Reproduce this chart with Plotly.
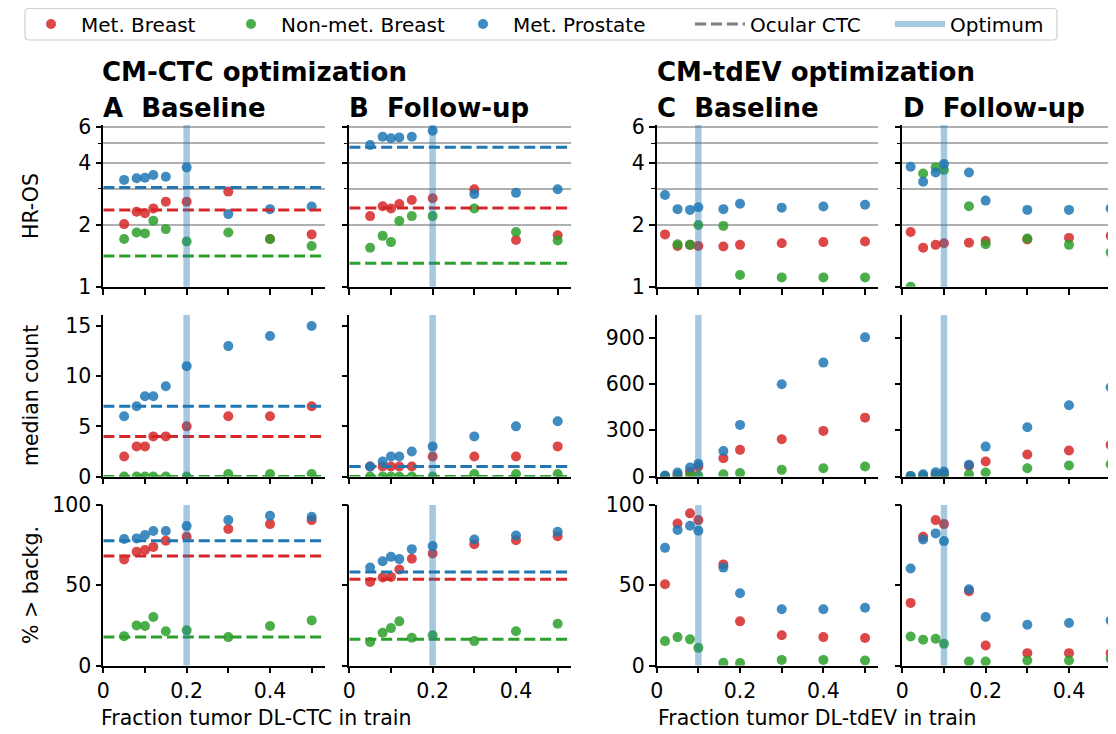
import math
import plotly.graph_objects as go

# ---------------- data ----------------
x_ctc = [0.05, 0.08, 0.1, 0.12, 0.15, 0.2, 0.3, 0.4, 0.5]
x_tdev = [0.02, 0.05, 0.08, 0.1, 0.16, 0.2, 0.3, 0.4, 0.5]
x_ticks = [0, 0.1, 0.2, 0.3, 0.4, 0.5]
x_ticktext = ["0", "", "0.2", "", "0.4", ""]

groups = ["Met. Breast", "Non-met. Breast", "Met. Prostate"]

# HR-OS
hr_A_met_breast = [2.02, 2.32, 2.28, 2.41, 2.60, 2.60, 2.91, 1.71, 1.80]
hr_A_nonmet_breast = [1.71, 1.84, 1.82, 2.10, 1.91, 1.66, 1.84, 1.71, 1.58]
hr_A_met_prostate = [3.32, 3.38, 3.40, 3.51, 3.44, 3.82, 2.26, 2.39, 2.46]
hr_B_met_breast = [2.21, 2.47, 2.41, 2.53, 2.65, 2.70, 2.99, 1.69, 1.78]
hr_B_nonmet_breast = [1.55, 1.77, 1.65, 2.09, 2.21, 2.21, 2.41, 1.85, 1.68]
hr_B_met_prostate = [4.91, 5.39, 5.30, 5.35, 5.39, 5.77, 2.83, 2.87, 2.99]
hr_C_met_breast = [1.80, 1.58, 1.60, 1.58, 1.57, 1.60, 1.63, 1.65, 1.66]
hr_C_nonmet_breast = [None, 1.61, 1.60, 2.00, 1.98, 1.14, 1.11, 1.11, 1.11]
hr_C_met_prostate = [2.80, 2.39, 2.37, 2.44, 2.39, 2.54, 2.43, 2.46, 2.51]
hr_D_met_breast = [1.85, 1.55, 1.60, 1.63, 1.64, 1.67, 1.70, 1.73, 1.77]
hr_D_nonmet_breast = [1.0, 3.57, 3.82, 3.71, 2.47, 1.61, 1.72, 1.60, 1.47]
hr_D_met_prostate = [3.85, 3.25, 3.61, 3.97, 3.61, 2.63, 2.37, 2.37, 2.41]

# median count
cnt_A_met_breast = [2, 3, 3, 4, 4, 5, 6, 6, 7]
cnt_A_nonmet_breast = [0, 0, 0, 0, 0, 0, 0.25, 0.25, 0.25]
cnt_A_met_prostate = [6, 7, 8, 8, 9, 11, 13, 14, 15]
cnt_B_met_breast = [1, 1, 1, 1, 1, 2, 2, 2, 3]
cnt_B_nonmet_breast = [0, 0, 0, 0, 0, 0, 0.25, 0.25, 0.25]
cnt_B_met_prostate = [1, 1.5, 2, 2, 2.5, 3, 4, 5, 5.5]
cnt_C_met_breast = [2, 10, 30, 65, 119, 173, 242, 296, 382]
cnt_C_nonmet_breast = [0, 2, 5, 5, 15, 22, 43, 54, 65]
cnt_C_met_prostate = [6, 26, 58, 82, 166, 335, 599, 739, 903]
cnt_D_met_breast = [1, 5, 12, 18, 70, 97, 143, 169, 205]
cnt_D_nonmet_breast = [0, 1, 2, 3, 15, 26, 54, 71, 80]
cnt_D_met_prostate = [4, 15, 28, 32, 76, 194, 320, 462, 579]

# % > background
pct_A_met_breast = [66.0, 70.8, 71.9, 73.9, 77.7, 80.2, 85.0, 88.1, 90.6]
pct_A_nonmet_breast = [18.3, 25.0, 24.6, 30.2, 21.3, 21.9, 17.7, 24.6, 28.1]
pct_A_met_prostate = [78.8, 79.2, 81.3, 83.8, 83.8, 86.9, 90.6, 93.3, 92.7]
pct_B_met_breast = [52.0, 54.8, 55.2, 59.8, 66.5, 69.8, 75.6, 78.1, 80.6]
pct_B_nonmet_breast = [14.6, 20.4, 23.3, 27.5, 17.3, 18.8, 15.2, 21.3, 26.0]
pct_B_met_prostate = [61.0, 65.0, 67.7, 66.3, 72.5, 74.4, 78.5, 81.0, 83.3]
pct_C_met_breast = [50.6, 88.5, 94.8, 90.6, 63.0, 27.5, 18.8, 17.7, 17.1]
pct_C_nonmet_breast = [15.2, 17.7, 16.3, 11.0, 1.7, 1.5, 3.5, 3.5, 3.1]
pct_C_met_prostate = [73.3, 84.4, 87.1, 84.0, 61.0, 45.0, 35.0, 35.0, 36.0]
pct_D_met_breast = [39.0, 80.2, 90.6, 88.1, 46.3, 12.5, 7.7, 7.7, 7.7]
pct_D_nonmet_breast = [18.1, 16.0, 16.7, 13.5, 2.5, 2.5, 3.1, 3.1, 4.2]
pct_D_met_prostate = [60.4, 78.5, 82.3, 77.5, 47.5, 30.2, 25.4, 26.5, 28.1]

# Ocular CTC reference (met. breast, non-met. breast, met. prostate)
ocular_hr_A = [2.37, 1.41, 3.05]
ocular_hr_B = [2.42, 1.30, 4.79]
ocular_cnt_A = [4, 0, 7]
ocular_cnt_B = [1, 0, 1]
ocular_pct_A = [68.3, 17.7, 77.7]
ocular_pct_B = [53.8, 16.3, 58.3]

optimum_ctc = 0.2
optimum_tdev = 0.1

# ---------------- style / layout ----------------
PAGE_W, PAGE_H = 1116, 734
OFF = 8                      # page body margin of the html page
W, H = PAGE_W - OFF, PAGE_H - OFF
FONT = "DejaVu Sans"
colors = ["#d62728", "#2ca02c", "#1f77b4"]
optimum_color = "rgba(31,119,180,0.4)"
grid_color = "#b0b0b0"
DASH = "11.1px,4.8px"


def fx(px):
    return (px - OFF) / W


def fy(py):
    return 1 - (py - OFF) / H


col_left_px = [103.3, 349.3, 656.7, 902.3]
col_w_px = 221.7
XMAX = 0.532
px_per_unit = col_w_px / XMAX
row_px = [(125, 286.7), (315, 476.5), (505, 665.5)]

panels = {
    (0, 0): (x_ctc, [hr_A_met_breast, hr_A_nonmet_breast, hr_A_met_prostate], ocular_hr_A, optimum_ctc),
    (0, 1): (x_ctc, [hr_B_met_breast, hr_B_nonmet_breast, hr_B_met_prostate], ocular_hr_B, optimum_ctc),
    (0, 2): (x_tdev, [hr_C_met_breast, hr_C_nonmet_breast, hr_C_met_prostate], None, optimum_tdev),
    (0, 3): (x_tdev, [hr_D_met_breast, hr_D_nonmet_breast, hr_D_met_prostate], None, optimum_tdev),
    (1, 0): (x_ctc, [cnt_A_met_breast, cnt_A_nonmet_breast, cnt_A_met_prostate], ocular_cnt_A, optimum_ctc),
    (1, 1): (x_ctc, [cnt_B_met_breast, cnt_B_nonmet_breast, cnt_B_met_prostate], ocular_cnt_B, optimum_ctc),
    (1, 2): (x_tdev, [cnt_C_met_breast, cnt_C_nonmet_breast, cnt_C_met_prostate], None, optimum_tdev),
    (1, 3): (x_tdev, [cnt_D_met_breast, cnt_D_nonmet_breast, cnt_D_met_prostate], None, optimum_tdev),
    (2, 0): (x_ctc, [pct_A_met_breast, pct_A_nonmet_breast, pct_A_met_prostate], ocular_pct_A, optimum_ctc),
    (2, 1): (x_ctc, [pct_B_met_breast, pct_B_nonmet_breast, pct_B_met_prostate], ocular_pct_B, optimum_ctc),
    (2, 2): (x_tdev, [pct_C_met_breast, pct_C_nonmet_breast, pct_C_met_prostate], None, optimum_tdev),
    (2, 3): (x_tdev, [pct_D_met_breast, pct_D_nonmet_breast, pct_D_met_prostate], None, optimum_tdev),
}

legend_names = ["legend", "legend2", "legend3", "legend4", "legend5"]

fig = go.Figure()
layout = {}
shapes = []

for (r, c), (xs, series, ocular, opt) in panels.items():
    idx = r * 4 + c + 1
    xn = "x" if idx == 1 else f"x{idx}"
    yn = "y" if idx == 1 else f"y{idx}"
    xkey = "xaxis" if idx == 1 else f"xaxis{idx}"
    ykey = "yaxis" if idx == 1 else f"yaxis{idx}"

    left = col_left_px[c]
    right = min(left + col_w_px, PAGE_W)
    xmax = (right - left) / px_per_unit
    x_dom = [fx(left), min(fx(right), 1.0)]
    y_dom = [fy(row_px[r][1]), fy(row_px[r][0])]

    for gi, ys in enumerate(series):
        fig.add_trace(go.Scatter(
            x=xs, y=ys, mode="markers", xaxis=xn, yaxis=yn,
            marker=dict(color=colors[gi], size=10, opacity=0.85,
                        line=dict(width=0)),
            name=groups[gi], showlegend=(idx == 1), legend=legend_names[gi],
        ))
    if ocular is not None:
        for gi, v in enumerate(ocular):
            fig.add_trace(go.Scatter(
                x=[0, xmax], y=[v, v], mode="lines", xaxis=xn, yaxis=yn,
                line=dict(color=colors[gi], width=3, dash=DASH),
                showlegend=False, hoverinfo="skip",
            ))

    shapes.append(dict(type="line", xref=xn, yref=f"{yn} domain",
                       x0=opt, x1=opt, y0=0, y1=1,
                       line=dict(color=optimum_color, width=6.5), layer="above"))

    xaxis = dict(domain=x_dom, range=[0, xmax], anchor=yn, automargin=False,
                 showline=True, linecolor="black", linewidth=1.6,
                 ticks="outside", ticklen=6, tickwidth=1.6, tickcolor="black",
                 tickvals=x_ticks, ticktext=x_ticktext,
                 showticklabels=(r == 2), showgrid=False, zeroline=False,
                 tickfont=dict(family=FONT, size=20.5, color="black"))
    yaxis = dict(domain=y_dom, anchor=xn, automargin=False,
                 showline=True, linecolor="black", linewidth=1.6,
                 ticks="outside", ticklen=6, tickwidth=1.6, tickcolor="black",
                 showticklabels=(c in (0, 2)), zeroline=False,
                 tickfont=dict(family=FONT, size=20.5, color="black"))
    if r == 0:
        yaxis.update(type="log", range=[0, math.log10(6.15)],
                     tickvals=[1, 2, 4, 6], ticktext=["1", "2", "4", "6"],
                     showgrid=True, gridcolor=grid_color, gridwidth=1.5,
                     minor=dict(tickvals=[3, 5], ticks="outside", ticklen=3.5,
                                tickwidth=1.2, tickcolor="black",
                                showgrid=True, gridcolor=grid_color, gridwidth=1.5))
    elif r == 1:
        if c < 2:
            yaxis.update(range=[0, 16.1], tickvals=[0, 5, 10, 15], showgrid=False)
        else:
            yaxis.update(range=[0, 1048], tickvals=[0, 300, 600, 900], showgrid=False)
    else:
        yaxis.update(range=[0, 100], tickvals=[0, 50, 100], showgrid=False)
    layout[xkey] = xaxis
    layout[ykey] = yaxis

# legend-only entries
fig.add_trace(go.Scatter(x=[None], y=[None], mode="lines", name="Ocular CTC",
                         line=dict(color="#7f7f7f", width=3, dash=DASH),
                         legend="legend4"))
fig.add_trace(go.Scatter(x=[None], y=[None], mode="lines", name="Optimum",
                         line=dict(color=optimum_color, width=6),
                         legend="legend5"))

# one legend per entry, placed like the reference, inside a common frame
legend_text_px = [83, 283, 515, 752, 952]
for name, tx in zip(legend_names, legend_text_px):
    layout[name] = dict(orientation="h", x=fx(tx - 62), y=fy(24), xanchor="left",
                        yanchor="middle", bgcolor="rgba(0,0,0,0)", borderwidth=0,
                        font=dict(family=FONT, size=20, color="black"),
                        itemwidth=50)

# rounded legend frame
x0, x1, y0, y1 = fx(25), fx(1057), fy(8.5), fy(40)
rx, ry = 4 / W, 4 / H
frame_path = (f"M {x0 + rx},{y0} L {x1 - rx},{y0} Q {x1},{y0} {x1},{y0 - ry} "
              f"L {x1},{y1 + ry} Q {x1},{y1} {x1 - rx},{y1} "
              f"L {x0 + rx},{y1} Q {x0},{y1} {x0},{y1 + ry} "
              f"L {x0},{y0 - ry} Q {x0},{y0} {x0 + rx},{y0} Z")
shapes.append(dict(type="path", xref="paper", yref="paper", path=frame_path,
                   line=dict(color="#d0d0d0", width=1.2), fillcolor="rgba(0,0,0,0)",
                   layer="below"))

annotations = []


def ann(text, x_px, y_px, size=20.5, xanchor="center", angle=0, bold=False):
    annotations.append(dict(
        text=f"<b>{text}</b>" if bold else text,
        x=fx(x_px), y=fy(y_px), xref="paper", yref="paper",
        xanchor=xanchor, yanchor="middle", showarrow=False, textangle=angle,
        font=dict(family=FONT, size=size, color="black")))


ann("CM-CTC optimization", 100, 72, size=26, xanchor="left", bold=True)
ann("CM-tdEV optimization", 655, 72, size=26, xanchor="left", bold=True)
ann("A\u00a0\u00a0Baseline", 101, 108, size=26, xanchor="left", bold=True)
ann("B\u00a0\u00a0Follow-up", 347, 108, size=26, xanchor="left", bold=True)
ann("C\u00a0\u00a0Baseline", 655, 108, size=26, xanchor="left", bold=True)
ann("D\u00a0\u00a0Follow-up", 901, 108, size=26, xanchor="left", bold=True)
ann("HR-OS", 31, 206, angle=-90)
ann("median count", 31, 396, angle=-90)
ann("% > backg.", 31, 585, angle=-90)
ann("Fraction tumor DL-CTC in train", 256, 718)
ann("Fraction tumor DL-tdEV in train", 817, 718)

fig.update_layout(
    width=W, height=H, margin=dict(l=0, r=0, t=0, b=0, pad=0, autoexpand=False),
    paper_bgcolor="white", plot_bgcolor="white",
    font=dict(family=FONT, size=20, color="black"),
    showlegend=True,
    shapes=shapes, annotations=annotations,
    **layout,
)

fig.write_html("out.html")
